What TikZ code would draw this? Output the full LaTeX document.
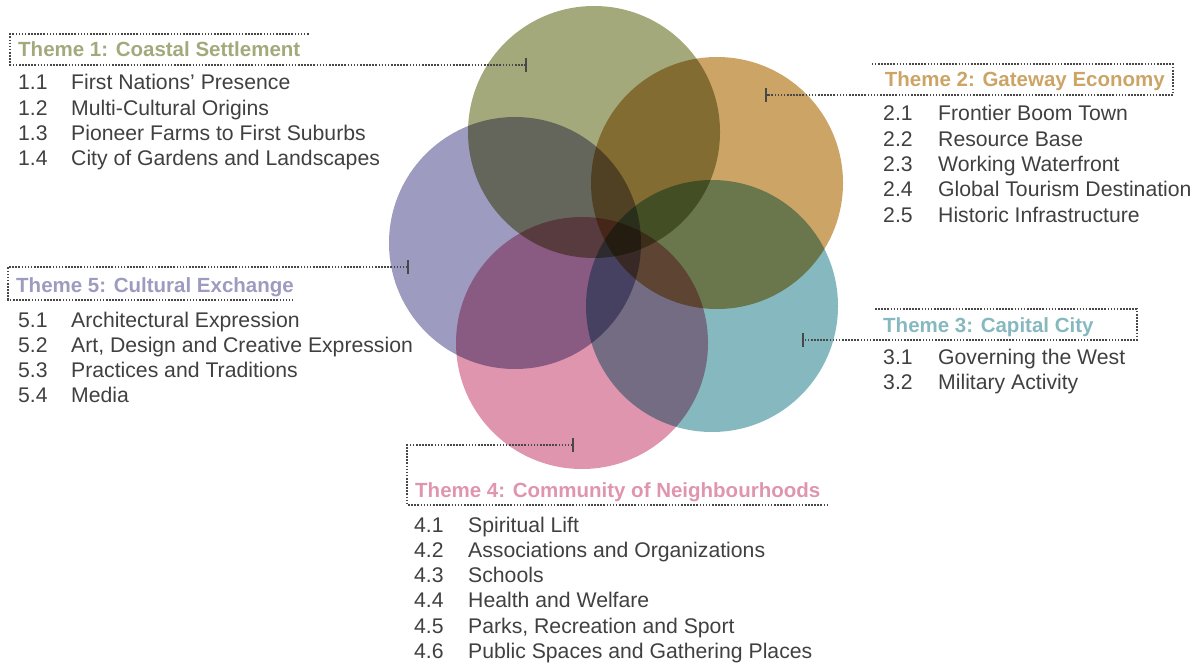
\documentclass[tikz,border=0pt]{standalone}
\usepackage{fontspec}
\setmainfont{Liberation Sans}
\usetikzlibrary{arrows.meta}
\definecolor{coastal}{HTML}{A4A97C}
\definecolor{gateway}{HTML}{CCA466}
\definecolor{capital}{HTML}{85B9BF}
\definecolor{community}{HTML}{E095AE}
\definecolor{cultural}{HTML}{9D9BBF}
\definecolor{ink}{HTML}{404040}
\definecolor{leadgray}{HTML}{484848}

\begin{document}
\begin{tikzpicture}[x=1pt,y=-1pt]
	\tikzstyle{every node}+=[inner sep=0pt]
	\tikzstyle{theme}=[circle,minimum size=252pt,blend mode=multiply]
	\tikzstyle{title}=[font=\fontsize{20.5}{24}\selectfont\bfseries,inner xsep=8pt,inner ysep=7.5pt,text height=15pt,text depth=0pt]
	\tikzstyle{item}=[font=\fontsize{21.2}{25}\selectfont,text=ink,anchor=base west]
	\tikzstyle{leader}=[draw=leadgray,line width=1.7pt,dash pattern=on 1.6pt off 1.5pt]
	\useasboundingbox (0,0) rectangle (1196,666);
	\node[theme,fill=coastal] (c1) at (594,132) {};
	\node[theme,fill=gateway] (c2) at (717,183) {};
	\node[theme,fill=capital] (c3) at (712,306) {};
	\node[theme,fill=community] (c4) at (582,343) {};
	\node[theme,fill=cultural] (c5) at (515,243) {};
	\coordinate (k1) at (527,63);
	\coordinate (k2) at (765,95);
	\coordinate (k3) at (802,340);
	\coordinate (r3) at (1137,309);
	\coordinate (k4) at (574,445);
	\coordinate (k5) at (409,267);
	\node[title,text=coastal,anchor=base west] (t1) at (10,57) {Theme 1: Coastal Settlement};
	\node[title,text=gateway,anchor=base east] (t2) at (1173,87) {Theme 2: Gateway Economy};
	\node[title,text=capital,anchor=base west] (t3) at (875,332) {Theme 3: Capital City};
	\node[title,text=community,anchor=base west] (t4) at (407,497) {Theme 4: Community of Neighbourhoods};
	\node[title,text=cultural,anchor=base west] (t5) at (8,292) {Theme 5: Cultural Exchange};
	\draw[leader,-{Bar[width=14pt,line width=2pt]}] (t1.north east) -- (t1.north west) -- (t1.south west) -- (t1.south west -| k1);
	\draw[leader,-{Bar[width=14pt,line width=2pt]}] ([xshift=-5pt]t2.north west) -- (t2.north east) -- (t2.south east) -- (t2.south east -| k2);
	\draw[leader,-{Bar[width=14pt,line width=2pt]}] (t3.north west) -- (t3.north west -| r3) -- (t3.south west -| r3) -- (t3.south west -| k3);
	\draw[leader,{Bar[width=14pt,line width=2pt]}-] (k4) -- (k4 -| t4.west) -- (t4.south west) -- (t4.south east);
	\draw[leader,{Bar[width=14pt,line width=2pt]}-] (k5) -- (k5 -| t5.west) -- (t5.south west) -- ([xshift=-10pt]t5.south east);
	\foreach \num/\txt [count=\i from 0] in {1.1/First Nations’ Presence,1.2/Multi-Cultural Origins,1.3/Pioneer Farms to First Suburbs,1.4/City of Gardens and Landscapes}{
		\node[item] (n1-\i) at (18,90+25.3*\i) {\num};
		\node[item] (i1-\i) at (71,90+25.3*\i) {\txt};
	}
	\foreach \num/\txt [count=\i from 0] in {2.1/Frontier Boom Town,2.2/Resource Base,2.3/Working Waterfront,2.4/Global Tourism Destination,2.5/Historic Infrastructure}{
		\node[item] (n2-\i) at (883,121+25.3*\i) {\num};
		\node[item] (i2-\i) at (938,121+25.3*\i) {\txt};
	}
	\foreach \num/\txt [count=\i from 0] in {3.1/Governing the West,3.2/Military Activity}{
		\node[item] (n3-\i) at (883,364+25.3*\i) {\num};
		\node[item] (i3-\i) at (938,364+25.3*\i) {\txt};
	}
	\foreach \num/\txt [count=\i from 0] in {4.1/Spiritual Lift,4.2/Associations and Organizations,4.3/Schools,4.4/Health and Welfare,4.5/{Parks, Recreation and Sport},4.6/Public Spaces and Gathering Places}{
		\node[item] (n4-\i) at (414,532+25.3*\i) {\num};
		\node[item] (i4-\i) at (468,532+25.3*\i) {\txt};
	}
	\foreach \num/\txt [count=\i from 0] in {5.1/Architectural Expression,5.2/{Art, Design and Creative Expression},5.3/Practices and Traditions,5.4/Media}{
		\node[item] (n5-\i) at (18,327+25.3*\i) {\num};
		\node[item] (i5-\i) at (71,327+25.3*\i) {\txt};
	}
\end{tikzpicture}
\end{document}
